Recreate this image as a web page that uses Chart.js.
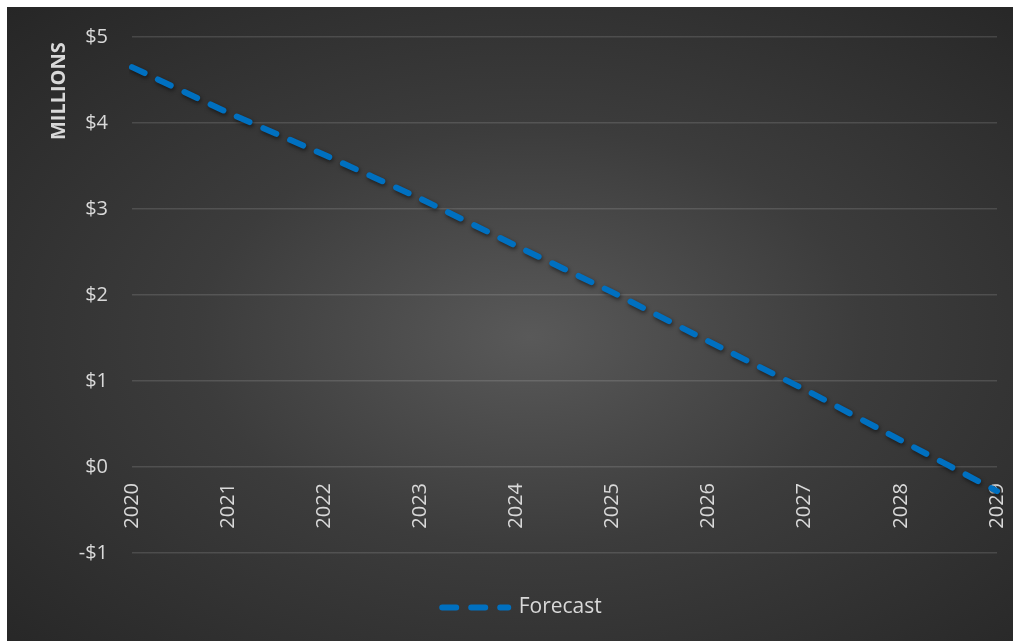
<!DOCTYPE html>
<html>
<head>
<meta charset="utf-8">
<script src="https://cdn.jsdelivr.net/npm/chart.js@4.4.1/dist/chart.umd.min.js"></script>
<style>
    html, body { margin: 0; padding: 0; background: #ffffff; }
    #wrap {
        position: absolute; left: 7px; top: 7px; width: 1006px; height: 634px;
        background: radial-gradient(ellipse farthest-corner at 52% 52%, #595959 0%, #3c3c3c 45%, #262626 100%);
    }
</style>
</head>
<body>
<div id="wrap"><canvas id="forecast-chart"></canvas></div>
<script>
    // Data
    var years = ["2020", "2021", "2022", "2023", "2024", "2025", "2026", "2027", "2028", "2029"];
    var forecast = [4.65, 4.12, 3.63, 3.12, 2.57, 2.03, 1.46, 0.9, 0.31, -0.28];
    var yTicks = [-1, 0, 1, 2, 3, 4, 5];

    Chart.defaults.color = "#d9d9d9";
    Chart.defaults.font.family = "'Open Sans', 'Noto Sans', sans-serif";

    // soft shadow under the line
    var lineShadow = {
        id: "lineShadow",
        beforeDatasetsDraw: function (chart) {
            var ctx = chart.ctx;
            ctx.save();
            ctx.shadowColor = "rgba(0, 0, 0, 0.55)";
            ctx.shadowBlur = 4;
            ctx.shadowOffsetX = 1;
            ctx.shadowOffsetY = 2;
        },
        afterDatasetsDraw: function (chart) {
            chart.ctx.restore();
        }
    };

    var ctx = document.getElementById("forecast-chart").getContext("2d");
    var myChart = new Chart(ctx, {
        type: "line",
        data: {
            labels: years,
            datasets: [{
                label: "Forecast",
                data: forecast,
                borderColor: "#0070c0",
                backgroundColor: "#0070c0",
                borderWidth: 6,
                borderDash: [14, 15],
                borderCapStyle: "round",
                pointRadius: 0,
                tension: 0.1,
                fill: false
            }]
        },
        options: {
            responsive: true,
            maintainAspectRatio: false,
            animation: false,
            layout: {
                padding: { left: 40, right: 16, top: 30, bottom: 13 }
            },
            plugins: {
                legend: {
                    position: "bottom",
                    title: {
                        display: true,
                        text: "",
                        font: { size: 10 },
                        padding: { top: 0, bottom: 22 }
                    },
                    labels: {
                        usePointStyle: true,
                        pointStyle: "line",
                        pointStyleWidth: 66,
                        padding: 10,
                        color: "#d9d9d9",
                        font: { size: 21 },
                        generateLabels: function (chart) {
                            var items = Chart.defaults.plugins.legend.labels.generateLabels(chart);
                            items.forEach(function (item) {
                                item.lineDash = [14, 15];
                                item.lineCap = "round";
                                item.lineWidth = 6;
                                item.strokeStyle = "#0070c0";
                            });
                            return items;
                        }
                    }
                },
                tooltip: { enabled: false }
            },
            scales: {
                x: {
                    position: { y: 0 },
                    offset: false,
                    grid: { display: false, drawTicks: false },
                    border: { display: false },
                    ticks: {
                        minRotation: 90,
                        maxRotation: 90,
                        padding: 16,
                        color: "#d9d9d9",
                        font: { size: 20 }
                    },
                    afterFit: function (scale) {
                        scale.height = 0;
                        scale.paddingLeft = 0;
                        scale.paddingRight = 0;
                        scale.paddingTop = 0;
                        scale.paddingBottom = 0;
                    }
                },
                y: {
                    min: -1,
                    max: 5,
                    afterBuildTicks: function (scale) {
                        scale.ticks = yTicks.map(function (v) { return { value: v }; });
                    },
                    grid: { color: "rgba(255, 255, 255, 0.13)", lineWidth: 1.5, drawTicks: false },
                    border: { display: false },
                    ticks: {
                        padding: 24,
                        color: "#d9d9d9",
                        font: { size: 20 },
                        callback: function (v) {
                            return (v < 0 ? "-$" : "$") + Math.abs(v);
                        }
                    },
                    title: {
                        display: true,
                        text: "MILLIONS ",
                        align: "end",
                        color: "#d9d9d9",
                        font: { size: 20, weight: "bold" },
                        padding: 0
                    },
                    afterFit: function (scale) {
                        scale.width = 85;
                        scale.paddingTop = 0;
                        scale.paddingBottom = 0;
                    }
                }
            }
        },
        plugins: [lineShadow]
    });
</script>
</body>
</html>
